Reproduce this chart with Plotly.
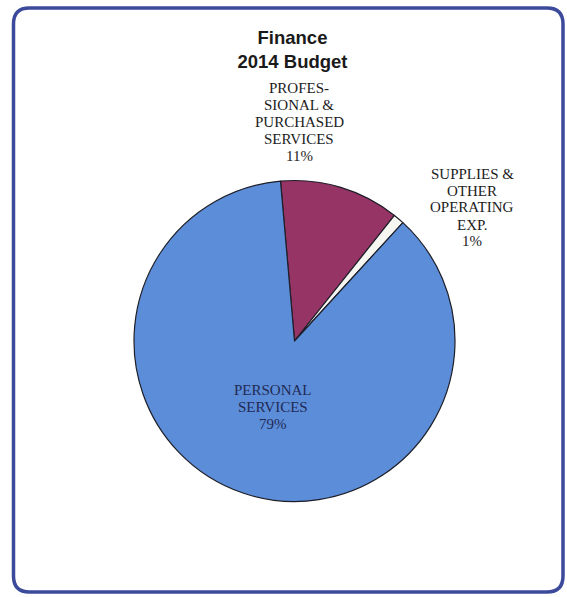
import plotly.graph_objects as go

# Finance department, 2014 budget shares (percent)
categories = ["PROFES-<br>SIONAL &<br>PURCHASED<br>SERVICES",
              "SUPPLIES &<br>OTHER<br>OPERATING<br>EXP.",
              "PERSONAL<br>SERVICES"]
shares = [11, 1, 79]
slice_colors = ["#963466", "#f7f7f2", "#5b8dd8"]

W, H = 567, 597

fig = go.Figure()

# pie geometry in pixels: centre and radius
cx, cy, r = 294.5, 341, 160.5
fig.add_trace(go.Pie(
    labels=categories,
    values=shares,
    sort=False,
    direction="clockwise",
    rotation=-5,
    marker=dict(colors=slice_colors, line=dict(color="#1e1e28", width=1.2)),
    textinfo="none",
    hoverinfo="label+percent",
    showlegend=False,
    domain=dict(x=[(cx - r) / W, (cx + r) / W],
                y=[1 - (cy + r) / H, 1 - (cy - r) / H]),
))

# slice labels: set line by line for a tight serif leading
label_font = dict(family="Liberation Serif, Times New Roman, serif", size=15)
label_pos = [(299, 88, "#1c1c1c"), (472, 173.5, "#1c1c1c"), (273, 390, "#222a55")]
leading = 17
for name, val, (px, py, col) in zip(categories, shares, label_pos):
    lines = name.split("<br>") + [f"{val}%"]
    for i, line in enumerate(lines):
        fig.add_annotation(
            x=px / W, y=1 - (py + i * leading) / H, xref="paper", yref="paper",
            text=line, showarrow=False,
            font=dict(color=col, **label_font),
            xanchor="center", yanchor="middle",
        )

# rounded frame around the chart
def rounded_rect(x0, y0, x1, y1, rad):
    X = lambda v: v / W
    Y = lambda v: 1 - v / H
    return (f"M {X(x0 + rad)} {Y(y0)} L {X(x1 - rad)} {Y(y0)} "
            f"Q {X(x1)} {Y(y0)} {X(x1)} {Y(y0 + rad)} "
            f"L {X(x1)} {Y(y1 - rad)} Q {X(x1)} {Y(y1)} {X(x1 - rad)} {Y(y1)} "
            f"L {X(x0 + rad)} {Y(y1)} Q {X(x0)} {Y(y1)} {X(x0)} {Y(y1 - rad)} "
            f"L {X(x0)} {Y(y0 + rad)} Q {X(x0)} {Y(y0)} {X(x0 + rad)} {Y(y0)} Z")

fig.add_shape(type="path", xref="paper", yref="paper",
              path=rounded_rect(13.5, 8, 563, 592, 16),
              line=dict(color="#3c4a9c", width=3.5))

fig.update_layout(
    width=W, height=H,
    margin=dict(l=0, r=0, t=0, b=0),
    paper_bgcolor="white", plot_bgcolor="white",
    title=dict(text="<b>Finance<br>2014 Budget</b>",
               x=292.5 / W, xanchor="center", y=1 - 44 / H, yanchor="middle",
               font=dict(family="Liberation Sans, Arial, sans-serif", size=18.5, color="#1a1a1a")),
)

fig.write_html("out.html")
